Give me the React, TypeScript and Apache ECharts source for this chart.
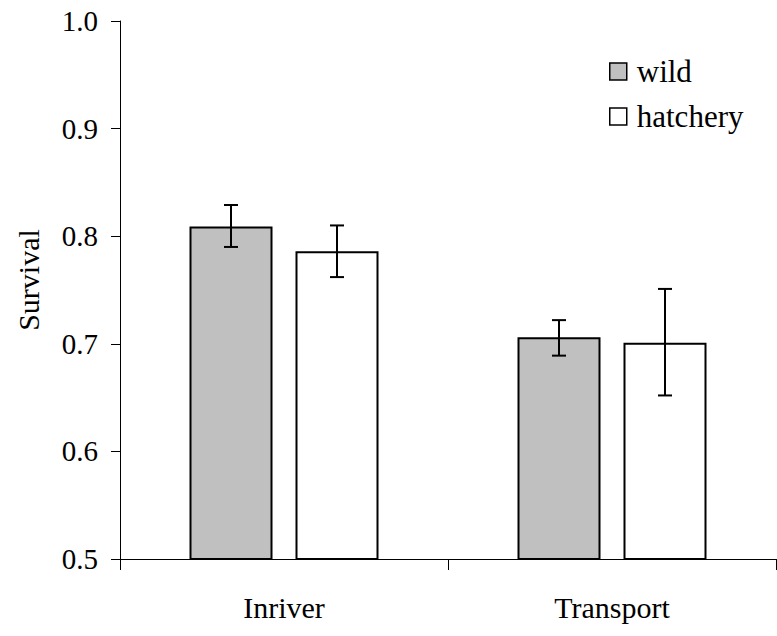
import React, { useEffect, useRef } from "react";
import * as echarts from "echarts";

const categories = ["Inriver", "Transport"];
const seriesNames = ["wild", "hatchery"];
const wildMean = [0.809, 0.706];
const wildLow = [0.79, 0.689];
const wildHigh = [0.829, 0.722];
const hatcheryMean = [0.786, 0.701];
const hatcheryLow = [0.762, 0.652];
const hatcheryHigh = [0.81, 0.751];

const FONT = "Liberation Serif";
const BAR_W = 83;
const GAP = 23;

function errorSeries(low: number[], high: number[], offset: number) {
  return {
    type: "custom",
    silent: true,
    z: 10,
    data: categories.map((_, i) => [i, low[i], high[i]]),
    renderItem: (params: any, api: any) => {
      const idx = api.value(0);
      const lo = api.coord([idx, api.value(1)]);
      const hi = api.coord([idx, api.value(2)]);
      const x = lo[0] + offset;
      const cap = 7;
      const style = { stroke: "#000", lineWidth: 2 };
      return {
        type: "group",
        children: [
          { type: "line", shape: { x1: x, y1: lo[1], x2: x, y2: hi[1] }, style },
          { type: "line", shape: { x1: x - cap, y1: lo[1], x2: x + cap, y2: lo[1] }, style },
          { type: "line", shape: { x1: x - cap, y1: hi[1], x2: x + cap, y2: hi[1] }, style },
        ],
      };
    },
  };
}

export default function App() {
  const ref = useRef<HTMLDivElement>(null);
  useEffect(() => {
    if (!ref.current) return;
    const chart = echarts.init(ref.current, null, { renderer: "svg" });
    const half = (BAR_W + GAP) / 2;
    chart.setOption({
      animation: false,
      backgroundColor: "#fff",
      textStyle: { fontFamily: FONT },
      grid: { left: 120, right: 1, top: 21, bottom: 77, containLabel: false },
      legend: {
        data: seriesNames,
        orient: "vertical",
        left: 604,
        top: 51,
        itemWidth: 17,
        itemHeight: 17,
        itemGap: 14,
        icon: "rect",
        itemStyle: { borderColor: "#000", borderWidth: 1.5 },
        textStyle: { fontFamily: FONT, fontSize: 31, color: "#000", padding: [0, 0, 0, 5] },
      },
      xAxis: {
        type: "category",
        data: categories,
        axisLine: { lineStyle: { color: "#000", width: 1 } },
        axisTick: { show: true, length: 11, lineStyle: { color: "#000" } },
        axisLabel: { fontFamily: FONT, fontSize: 30, color: "#000", margin: 33 },
        splitLine: { show: false },
      },
      yAxis: {
        type: "value",
        min: 0.5,
        max: 1.0,
        interval: 0.1,
        axisLine: { show: true, lineStyle: { color: "#000", width: 1 } },
        axisTick: { show: true, length: 9, lineStyle: { color: "#000" } },
        axisLabel: {
          fontFamily: FONT,
          fontSize: 29,
          color: "#000",
          margin: 22,
          formatter: (v: number) => v.toFixed(1),
        },
        splitLine: { show: false },
      },
      graphic: [
        {
          type: "text",
          x: 28,
          y: 280,
          rotation: Math.PI / 2,
          style: {
            text: "Survival",
            fontFamily: FONT,
            fontSize: 30,
            fill: "#000",
            textAlign: "center",
            textVerticalAlign: "middle",
          },
        },
      ],
      series: [
        {
          name: "wild",
          type: "bar",
          data: wildMean,
          barWidth: BAR_W,
          barGap: `${(GAP / BAR_W) * 100}%`,
          itemStyle: { color: "#c0c0c0", borderColor: "#000", borderWidth: 2 },
        },
        {
          name: "hatchery",
          type: "bar",
          data: hatcheryMean,
          barWidth: BAR_W,
          barGap: `${(GAP / BAR_W) * 100}%`,
          itemStyle: { color: "#ffffff", borderColor: "#000", borderWidth: 2 },
        },
        errorSeries(wildLow, wildHigh, -half),
        errorSeries(hatcheryLow, hatcheryHigh, half),
      ],
    });
    return () => chart.dispose();
  }, []);
  return (
    <div
      ref={ref}
      style={{ position: "fixed", left: 0, top: 0, width: 777, height: 636 }}
    />
  );
}
